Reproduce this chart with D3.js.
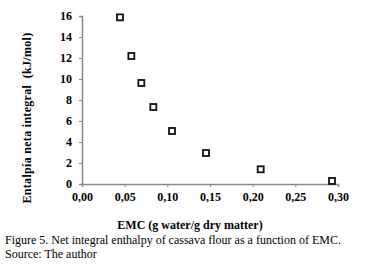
<html>
<head>
<meta charset="utf-8">
<script src="https://d3js.org/d3.v7.js"></script>
</head>
<body style="margin:0;background:#fff">
<script>
// data
var emc = [0.0445, 0.0578, 0.0695, 0.0836, 0.1055, 0.1453, 0.2094, 0.293];
var enthalpy = [15.87, 12.19, 9.62, 7.33, 5.05, 2.95, 1.40, 0.29];
var xTicks = [0, 0.05, 0.10, 0.15, 0.20, 0.25, 0.30];
var yTicks = [0, 2, 4, 6, 8, 10, 12, 14, 16];

var serif = "'Liberation Serif', serif";
var width = 371, height = 264;
var svg = d3.select("body").append("svg")
    .attr("width", width)
    .attr("height", height);

var x = d3.scaleLinear().domain([0, 0.30]).range([82, 338]);
var y = d3.scaleLinear().domain([0, 16]).range([184, 16]);

var fmt = function(d){ return d3.format(".2f")(d).replace(".", ","); };

var xAxis = svg.append("g")
    .attr("transform", "translate(0,184)")
    .call(d3.axisBottom(x).tickValues(xTicks).tickFormat(fmt).tickSize(3).tickPadding(5));
var yAxis = svg.append("g")
    .attr("transform", "translate(82,0)")
    .call(d3.axisLeft(y).tickValues(yTicks).tickSize(3).tickPadding(7));

[xAxis, yAxis].forEach(function(a){
  a.attr("font-family", null);
  a.select(".domain").attr("stroke", "#888").attr("stroke-width", 1.5);
  a.selectAll(".tick line").attr("stroke", "#888");
  a.selectAll(".tick text")
    .style("font-family", serif)
    .style("font-weight", "bold")
    .style("font-size", "12px")
    .attr("fill", "#000");
});
yAxis.selectAll(".tick text").attr("dy", "0.25em");

svg.append("g").selectAll("rect")
    .data(emc)
    .enter()
    .append("rect")
    .attr("x", (d,i)=>x(d)-3)
    .attr("y", (d,i)=>y(enthalpy[i])-3)
    .attr("width", 6)
    .attr("height", 6)
    .attr("fill", "#fff")
    .attr("stroke", "#111")
    .attr("stroke-width", 1.8);

svg.append("text")
    .text("EMC (g water/g dry matter)")
    .attr("x", 190)
    .attr("y", 229)
    .attr("text-anchor", "middle")
    .style("font-family", serif)
    .style("font-weight", "bold")
    .style("font-size", "12px");

svg.append("text")
    .text("Entalpía neta integral\u00a0 (kJ/mol)")
    .attr("transform", "translate(31,118) rotate(-90)")
    .attr("text-anchor", "middle")
    .style("font-family", serif)
    .style("font-weight", "bold")
    .style("font-size", "12px")
    .style("letter-spacing", "0.3px");

svg.append("text")
    .text("Figure 5. Net integral enthalpy of cassava flour as a function of EMC.")
    .attr("x", 5)
    .attr("y", 244)
    .style("font-family", serif)
    .style("font-size", "12px");
svg.append("text")
    .text("Source: The author")
    .attr("x", 5)
    .attr("y", 258)
    .style("font-family", serif)
    .style("font-size", "12px");
</script>
</body>
</html>
